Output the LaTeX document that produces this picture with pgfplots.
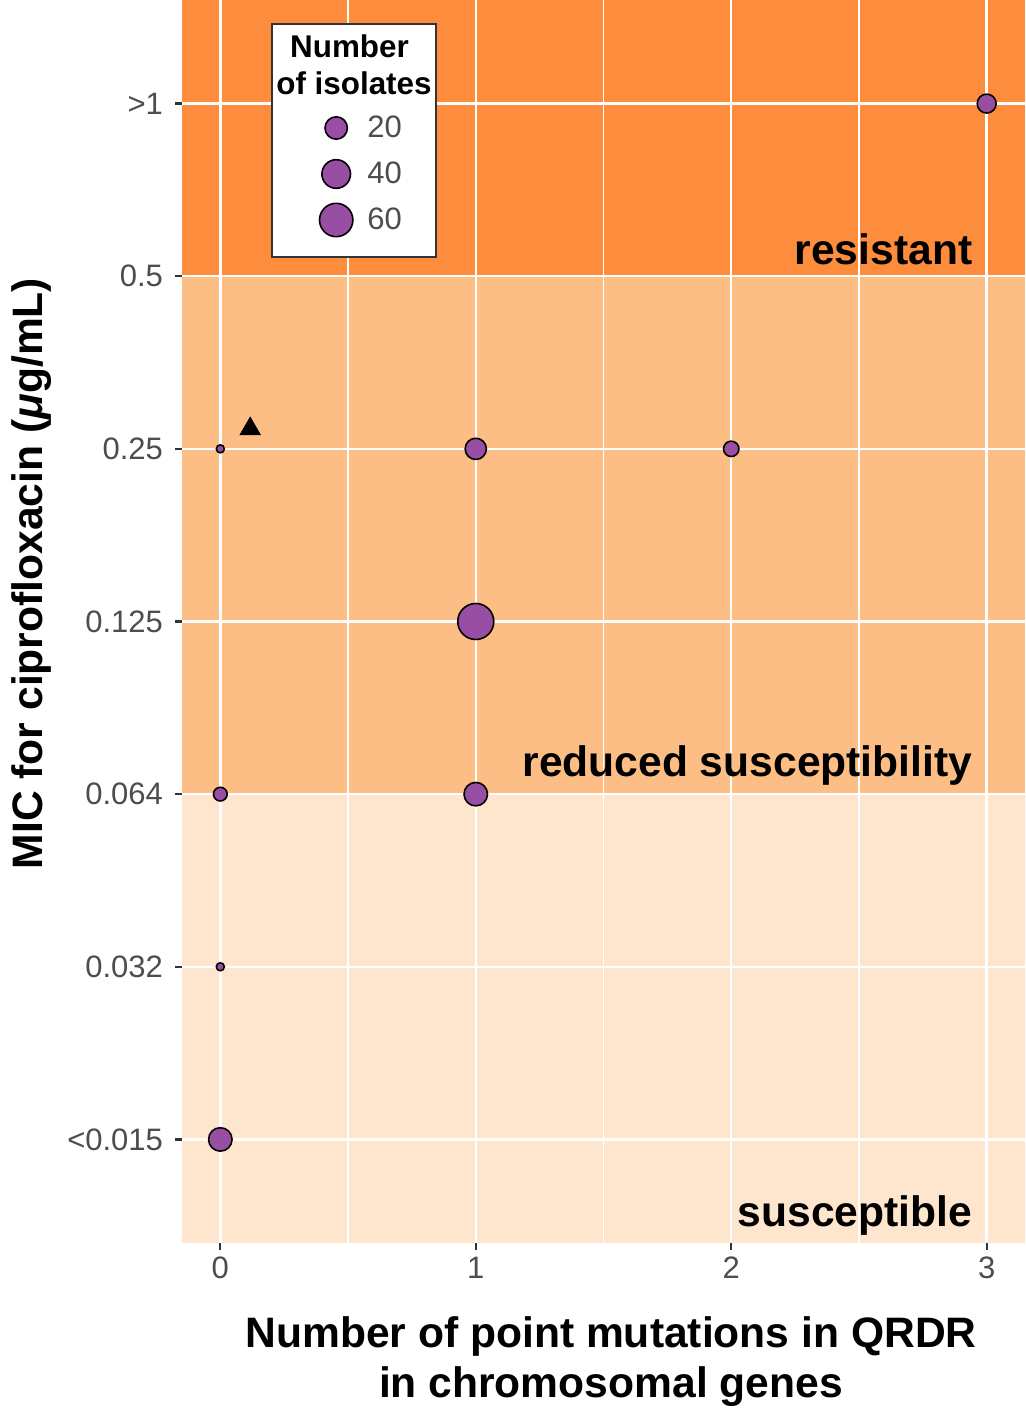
\documentclass[border=0pt]{standalone}
\usepackage{fontspec}
\setmainfont{Liberation Sans}
\usepackage{pgfplots}
\pgfplotsset{compat=1.18}
\usepackage{pgfplotstable}
\definecolor{resist}{HTML}{FD8D3C}
\definecolor{reduced}{HTML}{FDBE85}
\definecolor{suscept}{HTML}{FEE6CE}
\definecolor{ptpurple}{HTML}{984EA3}
\definecolor{ticklab}{HTML}{4D4D4D}
\definecolor{tickcol}{HTML}{333333}

\pgfplotstableread{
x y n
0 1 23
0 2 1
0 3 4
0 5 1
1 3 23
1 4 73
1 5 17
2 5 6
3 7 12
}\pointdata

\begin{document}
\begin{tikzpicture}
\begin{axis}[
  set layers,
  scale only axis, width=421.5pt, height=621.5pt,
  xmin=-0.15, xmax=3.15, ymin=0.4, ymax=7.6,
  axis line style={draw=none},
  xtick={0,1,2,3}, xticklabels={0,1,2,3},
  minor xtick={0.5,1.5,2.5},
  ytick={1,2,3,4,5,6,7},
  yticklabels={<0.015,0.032,0.064,0.125,0.25,0.5,>1},
  xtick pos=bottom, ytick pos=left, tick align=outside,
  major tick length=3.5pt, minor tick length=0pt,
  major tick style={draw=tickcol, line width=1.1pt},
  minor tick style={draw=none},
  ticklabel style={font=\fontsize{15.5}{18}\selectfont, text=ticklab},
  yticklabel style={xshift=-2.5pt},
  xmajorgrids, xminorgrids, ymajorgrids,
  major grid style={white, line width=1.2pt},
  minor grid style={white, line width=0.6pt},
  xlabel={Number of point mutations in QRDR\\in chromosomal genes},
  xlabel style={at={(axis description cs:0.5089,-0.1239)}, anchor=base, align=center, font=\bfseries\fontsize{21.3}{25}\selectfont},
  ylabel={MIC for ciprofloxacin (\textit{μ}g/mL)},
  ylabel style={at={(axis description cs:-0.1649,0.5386)}, anchor=base, font=\bfseries\fontsize{21.3}{25}\selectfont},
  legend style={at={(rel axis cs:0.16313,0.91553)}, anchor=north west, draw=none, fill=none,
    inner sep=0pt, outer sep=0pt, row sep=0pt, column sep=7.26pt,
    nodes={inner sep=0pt, outer sep=0pt, minimum height=23pt, text=ticklab, font=\fontsize{15.5}{18}\selectfont}},
  legend cell align=left,
]
% background bands
\addplot[forget plot, on layer=axis background, fill=suscept, draw=none]
  coordinates {(-0.15,0.4) (3.15,0.4) (3.15,3) (-0.15,3)} -- cycle;
\addplot[forget plot, on layer=axis background, fill=reduced, draw=none]
  coordinates {(-0.15,3) (3.15,3) (3.15,6) (-0.15,6)} -- cycle;
\addplot[forget plot, on layer=axis background, fill=resist, draw=none]
  coordinates {(-0.15,6) (3.15,6) (3.15,7.6) (-0.15,7.6)} -- cycle;

% points
\addplot[forget plot, scatter, only marks, mark=*,
  scatter/use mapped color={draw=black, fill=ptpurple},
  mark options={line width=0.8pt},
  visualization depends on={(9.6+3.3*sqrt(\thisrow{n}-1))/4-0.4 \as \msize},
  scatter/@pre marker code/.append style={/tikz/mark size=\msize}]
  table[x=x, y=y] {\pointdata};

% triangle marker
\addplot[forget plot, only marks, mark=triangle*, mark size=6pt,
  mark options={fill=black, draw=black, line width=0.2pt}]
  coordinates {(0.117,5.116)};

% annotations
\node[anchor=base east, inner sep=0pt, font=\bfseries\fontsize{21.3}{25}\selectfont] at (axis cs:2.945,6.067) {resistant};
\node[anchor=base east, inner sep=0pt, font=\bfseries\fontsize{21.3}{25}\selectfont] at (axis cs:2.945,3.104) {reduced susceptibility};
\node[anchor=base east, inner sep=0pt, font=\bfseries\fontsize{21.3}{25}\selectfont] at (axis cs:2.945,0.4957) {susceptible};

% legend frame and title
\draw[draw=tickcol, fill=white, line width=0.6pt] (rel axis cs:0.1068,0.7932) rectangle (rel axis cs:0.3013,0.9807);
\node[anchor=base, font=\bfseries\fontsize{15.7}{18}\selectfont] at (rel axis cs:0.1987,0.9538) {Number};
\node[anchor=base, font=\bfseries\fontsize{15.7}{18}\selectfont] at (rel axis cs:0.2040,0.92357) {of isolates};

\addlegendimage{only marks, mark=*, mark size=5.6pt, mark options={draw=black, fill=ptpurple, line width=0.8pt}}
\addlegendentry{20}
\addlegendimage{only marks, mark=*, mark size=7.15pt, mark options={draw=black, fill=ptpurple, line width=0.8pt}}
\addlegendentry{40}
\addlegendimage{only marks, mark=*, mark size=8.34pt, mark options={draw=black, fill=ptpurple, line width=0.8pt}}
\addlegendentry{60}
\end{axis}
\pgfresetboundingbox
\path[use as bounding box] (-91pt,-83pt) rectangle (421.5pt,621.5pt);
\end{tikzpicture}
\end{document}
